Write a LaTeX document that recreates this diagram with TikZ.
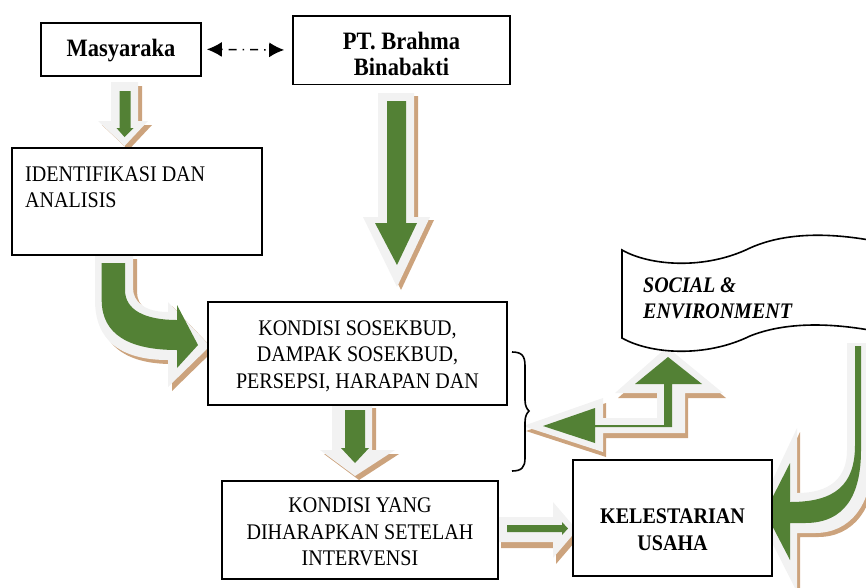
\documentclass[tikz,border=0pt]{standalone}
\usepackage{fontspec}
\setmainfont{Liberation Serif}[FakeStretch=0.9]
\usetikzlibrary{arrows.meta}
\definecolor{agreen}{RGB}{83,129,53}
\definecolor{aedge}{RGB}{242,242,242}
\definecolor{atan}{RGB}{204,163,125}
\newcommand\blockarrow[3]{%
  \fill[atan, shift={#1}] #2;
  \fill[aedge] #2;
  \fill[agreen] #3;
}
\tikzset{
  box/.style={draw=black, line width=1.6pt, fill=white, inner sep=0pt},
  txt/.style={inner sep=0pt, align=center, font=\fontsize{22.3}{26.3}\selectfont},
  btxt/.style={inner sep=0pt, align=center, font=\fontsize{25}{26}\selectfont\bfseries},
  ktxt/.style={inner sep=0pt, align=center, font=\fontsize{22.3}{26.7}\selectfont\bfseries},
  stxt/.style={inner sep=0pt, align=left, font=\fontsize{22.2}{25.5}\selectfont\bfseries\itshape},
  link/.style={line width=1.5pt, dash pattern=on 1.5pt off 6pt on 8pt off 6pt,
    {Latex[length=15pt,width=15pt]}-{Latex[length=15pt,width=15pt]}},
}
\begin{document}
\begin{tikzpicture}[x=1pt,y=-1pt]
\useasboundingbox (0,0) rectangle (866,587);
\clip (0,0) rectangle (866,587);

% block arrows
\blockarrow{(4,4)}%
 {(111,82) -- (138,82) -- (138,121) -- (148,121) -- (124.5,146) -- (98,121) -- (111,121) -- cycle}%
 {(119.5,91) -- (130.5,91) -- (130.5,128) -- (133.5,128) -- (124.5,137) -- (116.5,128) -- (119.5,128) -- cycle}
\blockarrow{(4,3)}%
 {(378,93) -- (414,93) -- (414,217) -- (430,217) -- (397,287) -- (363,217) -- (378,217) -- cycle}%
 {(387,101) -- (406,101) -- (406,223) -- (417,223) -- (397,265) -- (375,223) -- (387,223) -- cycle}
\blockarrow{(4,4)}%
 {(95,255) -- (95,300) .. controls (95,340) and (120,360) .. (168,360) -- (168,387) -- (210,346) -- (168,302) -- (168,312) .. controls (145,312) and (133,302) .. (133,288) -- (133,255) -- cycle}%
 {(101.7,263) -- (101.7,300) .. controls (101.7,335) and (130,350) .. (177,350) -- (177,368) -- (198,345) -- (177,305) -- (177,320) .. controls (145,320) and (125,310) .. (125,290) -- (125,263) -- cycle}
\blockarrow{(4,4)}%
 {(332,404) -- (372,404) -- (372,450) -- (395,450) -- (355,476) -- (320,450) -- (332,450) -- cycle}%
 {(345,410) -- (365,410) -- (365,448) -- (369,448) -- (355,463) -- (341,448) -- (345,448) -- cycle}
\blockarrow{(3,6)}%
 {(498,517) -- (553,517) -- (553,502) -- (577,530) -- (553,558) -- (553,542) -- (498,542) -- cycle}%
 {(507,525) -- (562,525) -- (562,522) -- (568,528.5) -- (562,535) -- (562,532) -- (507,532) -- cycle}
\blockarrow{(3,5)}%
 {(523,426) -- (603,398) -- (603,418) -- (657,418) -- (657,393) -- (615,393) -- (667,347) -- (723,393) -- (685,393) -- (685,433) -- (603,433) -- (603,452) -- cycle}%
 {(543,426) -- (595,408) -- (595,425) -- (664,425) -- (664,384) -- (635,384) -- (668,357) -- (702,384) -- (672,384) -- (672,427) -- (595,427) -- (595,443) -- cycle}
\blockarrow{(3,4)}%
 {(847,343) -- (847,450) .. controls (847,478) and (830,493) .. (797,493) -- (797,428) -- (757,513) -- (797,592) -- (797,533) -- (815,533) .. controls (850,533) and (872,505) .. (872,460) -- (872,343) -- cycle}%
 {(855,346) -- (855,445) .. controls (855,485) and (835,502) .. (790,502) -- (790,463) -- (765,512) -- (790,560) -- (790,523) -- (805,523) .. controls (845,523) and (861,495) .. (861,450) -- (861,346) -- cycle}

% boxes
\node[box, minimum width=160pt, minimum height=53pt] (masy) at (121,49.3) {};
\node[box, minimum width=217pt, minimum height=68.6pt] (pt) at (401.5,50) {};
\node[box, minimum width=250pt, minimum height=107pt] (ident) at (136.7,201.5) {};
\node[box, minimum width=299pt, minimum height=103pt] (kond) at (357.5,353.5) {};
\node[box, minimum width=276pt, minimum height=98pt] (kyang) at (360,530) {};
\node[box, minimum width=199pt, minimum height=116pt] (kel) at (672.5,518) {};

% wave shape
\draw[line width=1.6pt, fill=white] (622,250) .. controls (650,266) and (705,270) .. (750,248)
  .. controls (790,230) and (840,234) .. (880,242) -- (880,332)
  .. controls (840,324) and (790,320) .. (750,336)
  .. controls (705,358) and (650,354) .. (622,338) -- cycle;

% brace
\draw[line width=1.6pt] (512,352) .. controls (522,352) and (525,356) .. (525,366) -- (525,400)
  .. controls (525,406) and (527,409) .. (529,411) .. controls (527,413) and (525,416) .. (525,422)
  -- (525,458) .. controls (525,467) and (522,471) .. (512,471);

% connector
\draw[link, shorten <=5pt, shorten >=8pt] (masy.east) -- (pt.west);

% texts
\node[btxt, anchor=base] (tmasy) at (121,56) {Masyaraka};
\node[btxt, anchor=north] (tpt) at (401.5,32) {PT. Brahma\\Binabakti};
\node[txt, align=left, anchor=north west] (tident) at (25,166.5) {IDENTIFIKASI DAN\\ANALISIS};
\node[txt, anchor=north] (tkond) at (357.5,320.5) {KONDISI SOSEKBUD,\\DAMPAK SOSEKBUD,\\PERSEPSI, HARAPAN DAN};
\node[txt, anchor=north] (tkyang) at (360,498) {KONDISI YANG\\DIHARAPKAN SETELAH\\INTERVENSI};
\node[ktxt, anchor=north] (tkel) at (672.5,509) {KELESTARIAN\\USAHA};
\node[stxt, anchor=north west] (tsoc) at (643,278) {SOCIAL \&\\ENVIRONMENT};
\end{tikzpicture}
\end{document}
